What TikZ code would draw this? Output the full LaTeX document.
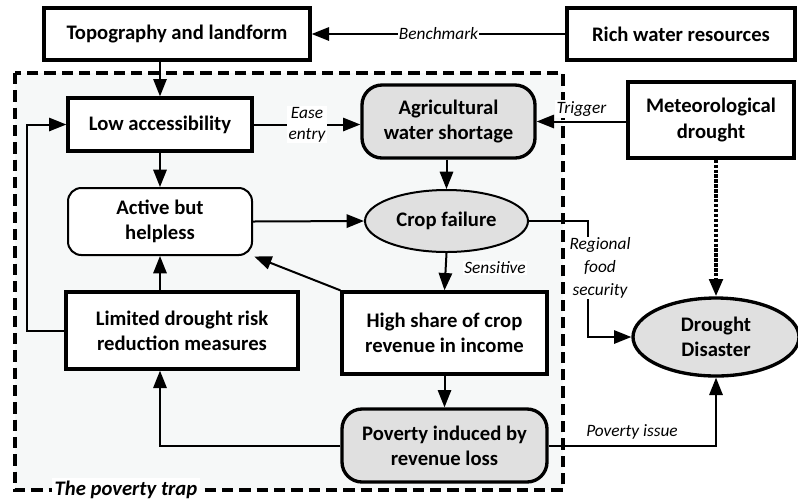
\documentclass[tikz,border=0pt]{standalone}
\usepackage{fontspec}
\setmainfont{Carlito}
\usetikzlibrary{arrows.meta,shapes.geometric}
\definecolor{nodegray}{RGB}{224,224,224}
\definecolor{trapfill}{RGB}{246,248,248}

\begin{document}
\begin{tikzpicture}[x=0.75pt,y=-0.75pt,
  every node/.style={font=\fontsize{15.5}{19}\selectfont\bfseries,align=center,inner sep=0pt},
  size/.style 2 args={minimum width=#1*0.75pt,minimum height=#2*0.75pt},
  mainbox/.style={draw,line width=2.5pt,fill=white},
  roundbox/.style={draw,line width=2.5pt,fill=nodegray,rounded corners=15pt},
  softbox/.style={draw,line width=1.5pt,fill=white,rounded corners=10pt},
  oval/.style={draw,ellipse,fill=nodegray},
  link/.style={line width=1.5pt,-{Triangle[length=13pt,width=10pt]}},
  lbl/.style={font=\fontsize{13}{16}\selectfont\itshape,fill=white,inner sep=1pt}]
\useasboundingbox (0,0) rectangle (798,501);
% the poverty trap
\draw[line width=2.6pt,dash pattern=on 8.5pt off 4.5pt,fill=trapfill] (15,73) rectangle (563,490);
\node[font=\fontsize{15.5}{19}\selectfont\bfseries\itshape,fill=white,inner sep=2pt] (traplbl) at (126,490) {The poverty trap};
% nodes
\node[mainbox,size={266}{52}] (topo) at (177,34) {Topography and landform};
\node[mainbox,size={228}{52}] (rich) at (681,34) {Rich water resources};
\node[mainbox,size={184}{53}] (lowacc) at (160,124.5) {Low accessibility};
\node[roundbox,size={173}{73}] (agri) at (448.5,121.5) {Agricultural\\water shortage};
\node[mainbox,size={166}{76}] (meteo) at (711,120) {Meteorological\\drought};
\node[softbox,size={184}{67}] (active) at (160,221.5) {Active but\\helpless};
\node[oval,line width=1.5pt,size={163}{62}] (crop) at (446.5,221) {Crop failure};
\node[mainbox,size={205}{82}] (high) at (444.5,333) {High share of crop\\revenue in income};
\node[mainbox,size={232}{77}] (limited) at (182,330.5) {Limited drought risk\\reduction measures};
\node[roundbox,size={205}{73}] (poverty) at (444.5,445.5) {Poverty induced by\\revenue loss};
\node[oval,line width=2.5pt,size={166}{78}] (disaster) at (716,337) {Drought\\Disaster};
% connectors
\draw[link] (rich.west) -- node[lbl] (benchlbl) {Benchmark} (topo.east);
\draw[link] (lowacc.north |- topo.south) -- (lowacc.north);
\draw[link] (lowacc.east) -- node[lbl] (easelbl) {Ease\\entry} (lowacc.east -| agri.west);
\draw[link] (meteo.west |- agri.east) -- node[lbl,above=2pt] (triglbl) {Trigger} (agri.east);
\draw[link] (lowacc.south) -- (active.north);
\draw[link] (active.east) -- (crop.west);
\draw[link] (agri.south -| crop.north) -- (crop.north);
\coordinate (foodbend) at (588,221);
\draw[link] (crop.east) -- (foodbend) |- (disaster.west);
\node[lbl,font=\fontsize{13}{17}\selectfont\itshape] (foodlbl) at (600,268) {Regional\\food\\security};
\draw[link] (crop.south) -- (high.north);
\node[lbl] (senslbl) at (495,268) {Sensitive};
\draw[link,shorten >=1pt] (high.north west) -- (active.south east);
\draw[link] (limited.north -| active.south) -- (active.south);
\draw[link] (limited.west) -- ++(-37,0) |- (lowacc.west);
\draw[link] (high.south) -- (poverty.north);
\draw[link] (poverty.west) -| (active.south |- limited.south);
\draw[link] (poverty.east) -| node[lbl,pos=0.5,above=3pt,xshift=-63pt] (povlbl) {Poverty issue} (disaster.south);
\draw[line width=3pt,dash pattern=on 2.5pt off 1.2pt,-{Triangle[length=13pt,width=10pt]}] (disaster.north |- meteo.south) -- (disaster.north);
\end{tikzpicture}
\end{document}
